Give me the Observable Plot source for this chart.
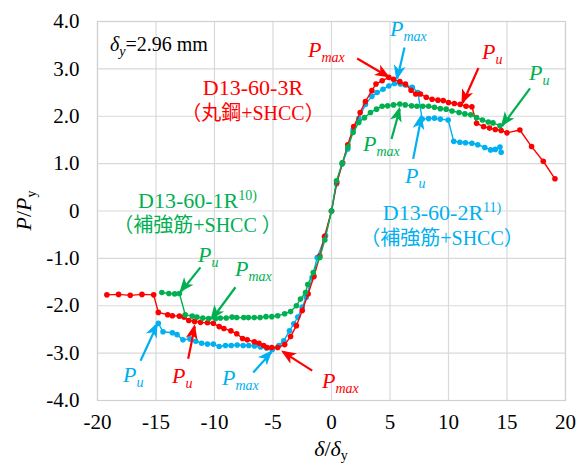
<!DOCTYPE html>
<html><head><meta charset="utf-8">
<script src="https://cdn.jsdelivr.net/npm/d3@7"></script>
<script src="https://cdn.jsdelivr.net/npm/@observablehq/plot@0.6"></script>
<style>
body{margin:0;background:#fff;}
</style></head><body><div id="chart"></div>
<script>
// D13-60-3R (丸鋼+SHCC)
const redX = [-19.2,-18.2,-17.2,-16.2,-15.2,-14.8,-14.0,-13.6,-13.0,-12.6,-12.2,-11.7,-11.2,-10.6,-10.1,-9.6,-9.2,-8.6,-8.1,-7.6,-7.2,-6.6,-6.2,-5.8,-5.5,-5.1,-4.6,-4.0,-3.5,-3.0,-2.5,-2.0,-1.5,-1.0,-0.6,0,0.45,0.95,1.39,1.9,2.45,2.9,3.45,3.8,4.33,4.9,5.3,5.84,6.32,6.8,7.2,7.6,8.1,8.6,9.1,9.55,10.0,10.5,11.0,11.5,12.0,12.4,13.0,13.5,14.0,14.5,15.0,16.1,17.1,18.1,19.1];
const redY = [-1.77,-1.76,-1.78,-1.76,-1.77,-2.14,-2.19,-2.21,-2.22,-2.24,-2.31,-2.33,-2.35,-2.36,-2.37,-2.44,-2.48,-2.53,-2.59,-2.69,-2.72,-2.76,-2.79,-2.84,-2.88,-2.88,-2.88,-2.82,-2.65,-2.42,-2.10,-1.75,-1.38,-0.95,-0.54,0,0.6,1.02,1.40,1.78,2.08,2.31,2.54,2.68,2.75,2.82,2.78,2.73,2.68,2.55,2.47,2.47,2.40,2.36,2.34,2.33,2.29,2.27,2.25,2.21,2.20,1.85,1.78,1.75,1.72,1.70,1.65,1.71,1.36,1.05,0.68];
// D13-60-2R (補強筋+SHCC)
const blueX = [-14.8,-14.4,-13.6,-13.2,-12.7,-12.1,-11.6,-11.1,-10.6,-10.1,-9.6,-9.06,-8.57,-8.06,-7.55,-7.07,-6.58,-6.07,-5.56,-5.07,-4.5,-4.08,-3.59,-3.22,-2.88,-2.5,-2.16,-1.65,-1.22,-0.51,0,0.43,0.91,1.39,1.85,2.33,2.9,3.45,3.9,4.4,4.9,5.38,5.9,6.32,6.9,7.38,7.75,8.3,8.8,9.3,9.97,10.45,10.97,11.45,12.0,12.5,13.1,13.6,14.0,14.4,14.5];
const blueY = [-2.37,-2.55,-2.57,-2.61,-2.72,-2.70,-2.75,-2.79,-2.81,-2.81,-2.86,-2.84,-2.84,-2.83,-2.84,-2.84,-2.85,-2.87,-2.89,-2.93,-2.84,-2.74,-2.53,-2.38,-2.24,-2.03,-1.82,-1.40,-0.98,-0.52,0,0.57,0.99,1.31,1.72,1.95,2.25,2.42,2.50,2.57,2.64,2.69,2.68,2.66,2.61,2.50,1.94,1.95,1.96,1.94,1.92,1.47,1.45,1.44,1.43,1.40,1.34,1.29,1.30,1.35,1.24];
// D13-60-1R (補強筋+SHCC)
const greenX = [-14.5,-13.9,-13.4,-13.0,-12.5,-11.9,-11.5,-11.0,-10.5,-9.9,-9.5,-9.0,-8.5,-8.1,-7.5,-7.1,-6.6,-6.1,-5.6,-5.1,-4.6,-4.0,-3.5,-3.0,-2.65,-2.22,-2.03,-1.56,-1.0,-0.57,0,0.43,0.91,1.40,1.85,2.33,2.82,3.33,3.85,4.33,4.8,5.3,5.84,6.3,6.84,7.3,7.8,8.3,8.8,9.3,9.8,10.3,10.9,11.4,11.9,12.4,12.9,13.4,13.8,14.4];
const greenY = [-1.72,-1.74,-1.75,-1.74,-2.19,-2.22,-2.24,-2.26,-2.27,-2.27,-2.26,-2.26,-2.24,-2.25,-2.25,-2.25,-2.25,-2.25,-2.23,-2.23,-2.21,-2.17,-2.12,-2.0,-1.86,-1.72,-1.55,-1.30,-0.98,-0.61,0,0.64,1.01,1.35,1.66,1.87,1.97,2.08,2.15,2.21,2.22,2.24,2.26,2.24,2.22,2.21,2.21,2.21,2.19,2.16,2.15,2.11,2.08,2.05,2.03,1.97,1.92,1.88,1.86,1.80];

const xTicks = [-20,-15,-10,-5,0,5,10,15,20];
const xTickLabels = ["-20","-15","-10","-5","0","5","10","15","20"];
const yTicks = [-4,-3,-2,-1,0,1,2,3,4];
const yTickLabels = ["-4.0","-3.0","-2.0","-1.0","0","1.0","2.0","3.0","4.0"];

// annotation arrows: series, from (x1,y1) to (x2,y2)
const arrowSeries = ["red","blue","red","green","green","blue","green","green","blue","red","blue","red"];
const arrowX1 = [2.19,6.24,12.56,16.97,5.13,6.98,-11.2,-8.21,-16.32,-12.25,-6.69,-1.65];
const arrowY1 = [3.22,3.45,3.02,2.59,1.52,1.10,-1.19,-1.61,-3.16,-3.12,-3.41,-3.37];
const arrowX2 = [4.89,5.62,11.22,14.61,5.84,7.69,-12.85,-10.21,-14.9,-11.68,-5.13,-4.13];
const arrowY2 = [2.83,2.79,2.28,1.80,2.15,1.99,-1.70,-2.28,-2.40,-2.44,-2.98,-2.98];
// annotation labels (left edge / middle of "P")
const labelSub = ["max","max","u","u","max","u","u","max","u","u","max","max"];
const labelX = [-1.97,5.04,12.9,16.92,2.74,6.32,-11.37,-8.2,-17.78,-13.59,-9.32,-0.77];
const labelY = [3.38,3.84,3.34,2.90,1.40,0.73,-0.94,-1.24,-3.47,-3.50,-3.54,-3.60];

// specimen names
const nameSeries = ["red","green","blue"];
const nameLine1 = ["D13-60-3R","D13-60-1R","D13-60-2R"];
const nameSup = ["","10)","11)"];
const nameLine2 = ["（丸鋼+SHCC）","（補強筋+SHCC ）","（補強筋+SHCC）"];
const nameX = [-6.67,-11.41,9.49];
const nameY1 = [2.43,0.05,-0.20];
const nameY2 = [1.90,-0.46,-0.73];

const COLORS = {red:"#FF0000", green:"#00B050", blue:"#00B0F0"};
const FONT = '"Liberation Serif","Times New Roman","DejaVu Serif","Noto Sans CJK JP",serif';

const rows = (xs, ys) => xs.map((x, i) => ({x, y: ys[i]}));
const red = rows(redX, redY), blue = rows(blueX, blueY), green = rows(greenX, greenY);
const arrows = arrowSeries.map((s, i) => ({s, x1: arrowX1[i], y1: arrowY1[i], x2: arrowX2[i], y2: arrowY2[i]}));
const xFmt = new Map(xTicks.map((t, i) => [t, xTickLabels[i]]));
const yFmt = new Map(yTicks.map((t, i) => [t, yTickLabels[i]]));

const seriesMarks = (data, c) => [
  Plot.line(data, {x: "x", y: "y", stroke: c, strokeWidth: 1.4}),
  Plot.dot(data, {x: "x", y: "y", fill: c, r: 2.8})
];

const plot = Plot.plot({
  width: 584, height: 467,
  marginLeft: 97, marginRight: 19, marginTop: 21, marginBottom: 67,
  x: {domain: [-20, 20]},
  y: {domain: [-4, 4]},
  style: {background: "#fff", color: "#000"},
  marks: [
    Plot.gridX(xTicks, {stroke: "#d9d9d9", strokeOpacity: 1, strokeWidth: 1.2}),
    Plot.gridY(yTicks, {stroke: "#d9d9d9", strokeOpacity: 1, strokeWidth: 1.2}),
    Plot.frame({stroke: "#d0d0d0", strokeWidth: 1.2}),
    Plot.axisX(xTicks, {tickSize: 0, tickPadding: 14, tickFormat: d => xFmt.get(d), label: null, fontSize: 21, fontFamily: FONT}),
    Plot.axisY(yTicks, {tickSize: 0, tickPadding: 18, tickFormat: d => yFmt.get(d), label: null, fontSize: 21, fontFamily: FONT}),
    ...seriesMarks(blue, COLORS.blue),
    ...seriesMarks(red, COLORS.red),
    ...seriesMarks(green, COLORS.green),
    Plot.link(arrows, {x1: "x1", y1: "y1", x2: "x2", y2: "y2", stroke: d => COLORS[d.s], strokeWidth: 2.2})
  ]
});
plot.style.fontFamily = FONT;

const svg = d3.select(plot);
const sx = plot.scale("x"), sy = plot.scale("y");
const X = v => sx.apply(v), Y = v => sy.apply(v);
const g = svg.append("g").attr("font-family", FONT).attr("text-anchor", "start");

// filled arrowheads at the end of each link, positioned with the plot's scales
arrows.forEach(a => {
  const px1 = X(a.x1), py1 = Y(a.y1), px2 = X(a.x2), py2 = Y(a.y2);
  const dx = px2 - px1, dy = py2 - py1, L = Math.hypot(dx, dy);
  const ux = dx / L, uy = dy / L, nx = -uy, ny = ux;
  const len = 15, half = 6, notch = 4;
  const tx = px2 + ux * 2, ty = py2 + uy * 2;
  const bx = tx - ux * len, by = ty - uy * len;
  const mx = tx - ux * (len - notch), my = ty - uy * (len - notch);
  g.append("path")
    .attr("d", `M${tx},${ty}L${bx + nx * half},${by + ny * half}L${mx},${my}L${bx - nx * half},${by - ny * half}Z`)
    .attr("fill", COLORS[a.s]);
});

function rich(x, y, parts, attrs) {
  const t = g.append("text").attr("x", x).attr("y", y);
  for (const [k, v] of Object.entries(attrs)) t.attr(k, v);
  for (const p of parts) {
    const ts = t.append("tspan").text(p.t);
    if (p.style) ts.attr("font-style", p.style);
    if (p.size) ts.attr("font-size", p.size);
    if (p.dy) ts.attr("dy", p.dy);
  }
  return t;
}

// arrow labels
labelSub.forEach((sub, i) => {
  rich(X(labelX[i]), Y(labelY[i]) + 7,
    [{t: "P", style: "italic"}, {t: sub, style: "italic", size: 14, dy: 5}],
    {fill: COLORS[arrowSeries[i]], "font-size": 22});
});

// specimen names
nameSeries.forEach((s, i) => {
  const parts = [{t: nameLine1[i]}];
  if (nameSup[i]) parts.push({t: nameSup[i], size: 14, dy: -8});
  rich(X(nameX[i]), Y(nameY1[i]), parts, {fill: COLORS[s], "font-size": 22, "text-anchor": "middle"});
  rich(X(nameX[i]), Y(nameY2[i]), [{t: nameLine2[i]}], {fill: COLORS[s], "font-size": 20, "text-anchor": "middle"});
});

// δy note
rich(X(-18.89), Y(3.36), [{t: "δ", style: "italic"}, {t: "y", style: "italic", size: 14, dy: 5}, {t: "=2.96 mm", dy: -5}], {fill: "#000", "font-size": 20});

// axis titles
rich(0, 0, [{t: "P", style: "italic"}, {t: "/"}, {t: "P", style: "italic"}, {t: "y", size: 14, dy: 5}],
  {fill: "#000", "font-size": 22, "text-anchor": "middle", transform: `translate(31,${Y(0)}) rotate(-90)`});
rich(X(0), 456, [{t: "δ", style: "italic"}, {t: "/"}, {t: "δ", style: "italic"}, {t: "y", size: 14, dy: 4}],
  {fill: "#000", "font-size": 22, "text-anchor": "middle"});

document.getElementById("chart").appendChild(plot);
</script></body></html>
